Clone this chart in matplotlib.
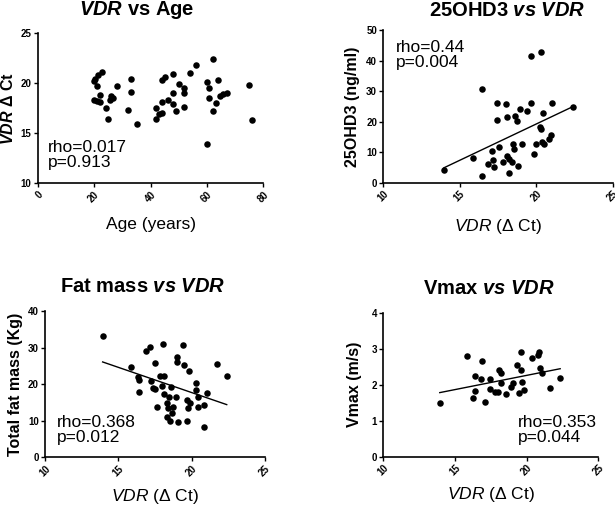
import matplotlib
matplotlib.use("Agg")
import matplotlib.pyplot as plt
import numpy as np

plt.rcParams['font.family'] = ['Liberation Sans', 'DejaVu Sans']
plt.rcParams['mathtext.fontset'] = 'custom'
plt.rcParams['mathtext.rm'] = 'Liberation Sans'
plt.rcParams['mathtext.it'] = 'Liberation Sans:italic'
plt.rcParams['mathtext.bf'] = 'Liberation Sans:bold:italic'

# ---- data ----
ages1 = [22.9, 21.3, 20.3, 20.0, 21.1, 28.0, 33.1, 33.1, 22.1, 20.0, 21.1, 22.1, 26.0, 26.8, 25.6,
         24.1, 25.0, 31.9, 35.1, 41.9, 41.9, 44.0, 44.2, 46.1, 48.1, 48.9, 44.0, 45.1, 48.1, 50.1,
         48.1, 52.0, 52.0, 52.0, 54.0, 56.1, 62.1, 59.9, 60.9, 60.9, 62.1, 64.0, 63.2, 64.6, 65.6,
         67.0, 59.9, 75.0, 76.1, 42.9]
vdr1 = [21.1, 20.8, 20.4, 20.2, 19.7, 19.7, 20.4, 19.1, 18.8, 18.3, 18.2, 18.1, 18.7, 18.5, 18.3,
        17.5, 16.4, 17.3, 15.9, 17.5, 16.4, 17.0, 18.1, 18.3, 17.9, 17.2, 20.3, 20.6, 20.9, 19.9,
        19.0, 19.5, 19.0, 17.6, 21.0, 21.8, 22.4, 20.1, 19.5, 18.5, 17.2, 20.3, 18.0, 18.7, 18.9,
        19.0, 13.9, 19.8, 16.3, 16.9]

vdr2 = [13.97, 15.85, 16.43, 16.43, 17.13, 16.83, 17.24, 17.15, 17.46, 17.46, 17.59, 17.81, 18.0,
        18.07, 18.07, 18.22, 18.24, 18.40, 18.50, 18.55, 18.61, 18.77, 18.79, 18.94, 19.05, 19.42,
        19.64, 19.66, 19.84, 19.99, 20.29, 20.25, 20.32, 20.42, 20.36, 20.51, 20.86, 20.97, 21.05, 22.43]
ohd3 = [4.2, 8.0, 30.6, 2.3, 10.4, 6.0, 5.2, 7.4, 26.0, 20.5, 11.8, 6.7, 25.7, 21.4, 8.7, 7.8, 3.1,
        6.7, 12.6, 11.0, 21.8, 20.3, 5.5, 24.1, 12.6, 23.5, 26.2, 41.6, 9.4, 12.8, 42.7, 18.3, 17.5,
        22.7, 13.4, 12.6, 14.3, 15.6, 26.2, 24.9]
fit2 = (2.376, -28.3)  # slope, intercept

vdr3 = [13.93, 15.86, 16.32, 16.41, 16.43, 16.86, 17.16, 17.5, 17.2, 17.38, 17.5, 17.84, 18.11, 18.02,
        17.95, 17.61, 18.11, 18.59, 18.45, 18.91, 18.34, 18.40, 18.70, 18.64, 18.29, 18.52, 19.09,
        19.66, 19.39, 19.02, 19.02, 19.5, 19.84, 20.29, 20.29, 20.41, 20.45, 19.66, 19.89, 19.77,
        20.86, 21.02, 20.86, 21.7, 22.39]
fatmass = [33.2, 24.8, 21.9, 21.1, 17.9, 29.1, 30.2, 25.7, 20.9, 19.0, 18.6, 22.2, 22.2, 30.9, 19.5,
           13.8, 17.3, 19.1, 16.6, 16.4, 14.8, 13.4, 13.7, 12.0, 11.1, 10.0, 9.6, 9.9, 30.7, 27.5,
           26.1, 25.2, 23.6, 20.4, 18.4, 16.4, 13.7, 15.7, 14.9, 13.4, 14.3, 17.5, 8.4, 25.4, 22.2]
fit3 = (-1.379, 45.28)

vdr4 = [13.94, 15.84, 16.91, 16.38, 16.79, 16.38, 16.26, 17.07, 17.47, 17.42, 17.77, 18.0, 18.05,
        18.19, 18.19, 18.58, 18.88, 19.04, 19.35, 19.62, 19.62, 19.69, 19.46, 19.85, 20.36, 20.78,
        20.85, 20.9, 21.06, 21.64, 22.34]
vmax = [1.48, 2.81, 2.67, 2.24, 2.16, 1.83, 1.62, 1.51, 2.15, 1.87, 1.81, 1.79, 2.41, 2.32, 2.06,
        1.74, 1.94, 2.04, 2.55, 2.92, 2.41, 2.08, 1.78, 1.85, 2.73, 2.83, 2.92, 2.46, 2.33, 1.90, 2.20]
fit4 = (0.079, 0.679)

W, H = 615, 505
fig = plt.figure(figsize=(W / 100, H / 100), dpi=100)


def px_axes(l, t, r, b):
    return fig.add_axes([l / W, 1 - b / H, (r - l) / W, (b - t) / H])


def style(ax, xlim, xticks, ylim, yticks):
    ax.set_xlim(*xlim)
    ax.set_ylim(*ylim)
    ax.set_xticks(xticks)
    ax.set_yticks(yticks)
    for s in ['top', 'right']:
        ax.spines[s].set_visible(False)
    for s in ['left', 'bottom']:
        ax.spines[s].set_linewidth(1.2)
    ax.tick_params(direction='out', length=3, width=1.0, labelsize=7, pad=1.5)
    for lab in ax.get_xticklabels():
        lab.set_rotation(45)
        lab.set_ha('right')
        lab.set_va('top')
        lab.set_rotation_mode('anchor')
        lab.set_fontweight('bold')
    for lab in ax.get_yticklabels():
        lab.set_fontweight('bold')


def scatter(ax, x, y):
    ax.scatter(x, y, s=22, color='black', zorder=3, clip_on=False, linewidths=0)


def fitline(ax, x, fit):
    xs = np.array([min(x), max(x)])
    ax.plot(xs, fit[0] * xs + fit[1], color='black', lw=1.0, zorder=2)


# Panel 1
ax1 = px_axes(37.7, 33.3, 263.3, 183.3)
scatter(ax1, ages1, vdr1)
style(ax1, (0, 80), [0, 20, 40, 60, 80], (10, 25), [10, 15, 20, 25])
ax1.set_xlabel('Age (years)', fontsize=12.5)
ax1.set_ylabel(r'$\mathbf{VDR}$ Δ Ct', fontsize=11.5, fontweight='bold')
ax1.xaxis.set_label_coords(0.5, -0.225)
ax1.yaxis.set_label_coords(-22 / 225.6, 0.5)
ax1.text(0.047, 0.29, 'rho=0.017\np=0.913', transform=ax1.transAxes, fontsize=12.5,
         va='top', ha='left', linespacing=1.0)
fig.text(137 / W, 1 - 10 / H, r'$\mathbf{VDR}$ vs Age', ha='center', va='center',
         fontsize=14.5, fontweight='bold')

# Panel 2
ax2 = px_axes(383.3, 30, 612.7, 182.7)
scatter(ax2, vdr2, ohd3)
fitline(ax2, vdr2, fit2)
style(ax2, (10, 25), [10, 15, 20, 25], (0, 50), [0, 10, 20, 30, 40, 50])
ax2.set_xlabel(r'$\mathit{VDR}$ (Δ Ct)', fontsize=12.5)
ax2.set_ylabel('25OHD3 (ng/ml)', fontsize=11.5, fontweight='bold')
ax2.xaxis.set_label_coords(0.5, -0.225)
ax2.yaxis.set_label_coords(-23 / 229.4, 0.5)
ax2.text(0.055, 0.935, 'rho=0.44\np=0.004', transform=ax2.transAxes, fontsize=12.5,
         va='top', ha='left', linespacing=1.0)
fig.text(507.5 / W, 1 - 10 / H, r'25OHD3 $\mathbf{vs}$ $\mathbf{VDR}$', ha='center', va='center',
         fontsize=14.5, fontweight='bold')

# Panel 3
ax3 = px_axes(45, 311, 265, 457.3)
scatter(ax3, vdr3, fatmass)
fitline(ax3, vdr3, fit3)
style(ax3, (10, 25), [10, 15, 20, 25], (0, 40), [0, 10, 20, 30, 40])
ax3.set_xlabel(r'$\mathit{VDR}$ (Δ Ct)', fontsize=12.5)
ax3.set_ylabel('Total fat mass (Kg)', fontsize=11.5, fontweight='bold')
ax3.xaxis.set_label_coords(0.5, -0.2)
ax3.yaxis.set_label_coords(-22 / 220, 0.5)
ax3.text(0.053, 0.29, 'rho=0.368\np=0.012', transform=ax3.transAxes, fontsize=12.5,
         va='top', ha='left', linespacing=1.0)
fig.text(143 / W, 1 - 286 / H, r'Fat mass $\mathbf{vs}$ $\mathbf{VDR}$', ha='center', va='center',
         fontsize=14.5, fontweight='bold')

# Panel 4
ax4 = px_axes(383.3, 312.7, 598.3, 456.7)
scatter(ax4, vdr4, vmax)
fitline(ax4, vdr4, fit4)
style(ax4, (10, 25), [10, 15, 20, 25], (0, 4), [0, 1, 2, 3, 4])
ax4.set_xlabel(r'$\mathit{VDR}$ (Δ Ct)', fontsize=12.5)
ax4.set_ylabel('Vmax (m/s)', fontsize=11.5, fontweight='bold')
ax4.xaxis.set_label_coords(0.5, -0.2)
ax4.yaxis.set_label_coords(-21 / 215, 0.5)
ax4.text(0.628, 0.29, 'rho=0.353\np=0.044', transform=ax4.transAxes, fontsize=12.5,
         va='top', ha='left', linespacing=1.0)
fig.text(489 / W, 1 - 289 / H, r'Vmax $\mathbf{vs}$ $\mathbf{VDR}$', ha='center', va='center',
         fontsize=14.5, fontweight='bold')

fig.savefig('out.png', dpi=100)
